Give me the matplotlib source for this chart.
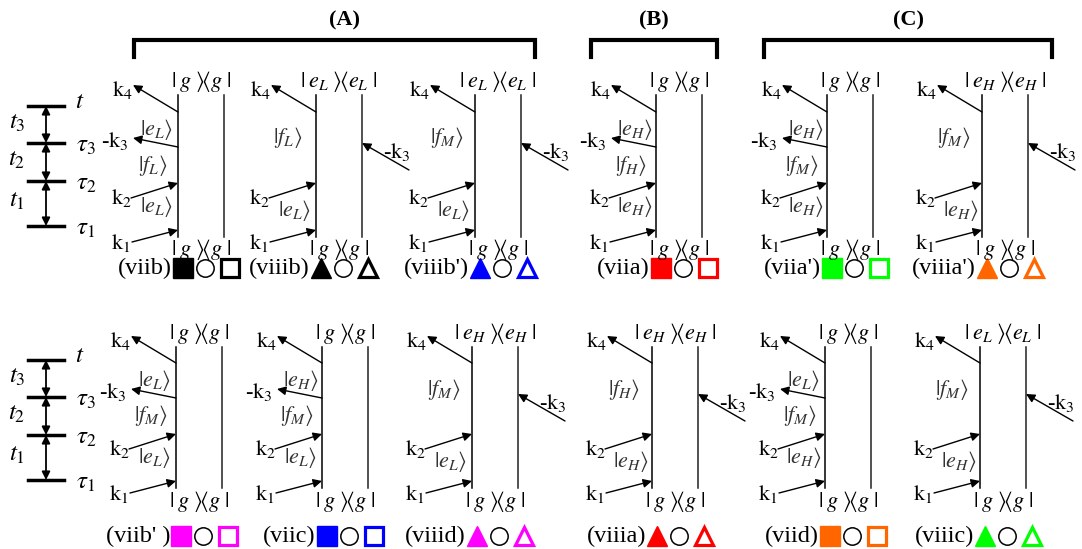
import matplotlib.pyplot as plt

plt.rcParams['font.family'] = ['Liberation Serif', 'DejaVu Serif']
plt.rcParams['mathtext.fontset'] = 'stix'

# diagram contents: top row then bottom row, left to right
names_top = ["(viib)", "(viiib)", "(viiib')", "(viia)", "(viia')", "(viiia')"]
names_bot = ["(viib' )", "(viic)", "(viiid)", "(viiia)", "(viid)", "(viiic)"]
# "ket": all four interactions on the left line, "bra": -k3 acts on the right line
kinds_top = ["ket", "bra", "bra", "ket", "ket", "bra"]
kinds_bot = ["ket", "ket", "bra", "bra", "ket", "bra"]
# population at the end of each diagram
final_top = ["g", "e_L", "e_L", "g", "g", "e_H"]
final_bot = ["g", "g", "e_H", "e_H", "g", "e_L"]
# intermediate states, from the bottom of the diagram upward
states_top = [["e_L", "f_L", "e_L"], ["e_L", "f_L"], ["e_L", "f_M"],
              ["e_H", "f_H", "e_H"], ["e_H", "f_M", "e_H"], ["e_H", "f_M"]]
states_bot = [["e_L", "f_M", "e_L"], ["e_L", "f_M", "e_H"], ["e_L", "f_M"],
              ["e_H", "f_H"], ["e_H", "f_M", "e_L"], ["e_H", "f_M"]]
colors_top = ["black", "black", "#0000ff", "#ff0000", "#00ff00", "#ff6600"]
colors_bot = ["#ff00ff", "#0000ff", "#ff00ff", "#ff0000", "#ff6600", "#00ff00"]
groups = ["(A)", "(B)", "(C)"]

# layout (pixels)
left_top = [178, 316, 475, 656, 827, 982]
left_bot = [176, 322, 472, 652, 825, 980]
rows = [(95, 237, 268), (347, 488, 536)]
group_span = [(134, 535), (591, 717), (764, 1052)]
gap = 46

fig = plt.figure(figsize=(10.82, 5.49), dpi=100)
ax = fig.add_axes([0, 0, 1, 1])
ax.set_xlim(0, 1082)
ax.set_ylim(549, 0)
ax.axis('off')


def arrow(x0, y0, x1, y1):
    ax.annotate("", xy=(x1, y1), xytext=(x0, y0),
                arrowprops=dict(arrowstyle='-|>', lw=1.0, color='black',
                                mutation_scale=13, shrinkA=0, shrinkB=0))


def ket(s):
    return r"$|%s\rangle$" % s


def braket(s):
    return r"$|\;%s\;\rangle\!\langle %s\;|$" % (s, s)


def k(n, minus=False):
    return ("-" if minus else "") + r"$\mathrm{k}_%d$" % n


def diagram(L, y0, y1, ycap, kind, final, states, name, color):
    R = L + gap
    ax.plot([L, L], [y0, y1], color='black', lw=1.1)
    ax.plot([R, R], [y0, y1], color='#222222', lw=1.1)
    ax.text((L + R) / 2, y0 - 13, braket(final), ha='center', va='center', fontsize=16)
    ax.text((L + R) / 2, y1 + 13, braket("g"), ha='center', va='center', fontsize=16)

    yk1, yk2, yk4 = y1 - 7, y1 - 54, y1 - 125
    arrow(L - 46, yk1 + 12, L, yk1)
    ax.text(L - 57, yk1 + 13, k(1), ha='center', va='center', fontsize=16)
    arrow(L - 47, yk2 + 15, L, yk2)
    ax.text(L - 57, yk2 + 15, k(2), ha='center', va='center', fontsize=16)
    arrow(L, yk4, L - 45, yk4 - 27)
    ax.text(L - 56, yk4 - 22, k(4), ha='center', va='center', fontsize=16)

    sc = '#333333'
    if kind == "ket":
        yk3 = y1 - 90
        arrow(L, yk3, L - 45, yk3 - 9)
        ax.text(L - 63, yk3 - 6, k(3, True), ha='center', va='center', fontsize=16)
        ax.text(L - 21, (yk1 + yk2) / 2, ket(states[0]), ha='center', va='center',
                fontsize=16, color=sc)
        ax.text(L - 25, (yk2 + yk3) / 2, ket(states[1]), ha='center', va='center',
                fontsize=16, color=sc)
        ax.text(L - 21, (yk3 + yk4) / 2, ket(states[2]), ha='center', va='center',
                fontsize=16, color=sc)
        mk = 's'
    else:
        yk3 = y1 - 94
        arrow(R + 47, yk3 + 27, R, yk3)
        ax.text(R + 35, yk3 + 9, k(3, True), ha='center', va='center', fontsize=16)
        ax.text(L - 21, (yk1 + yk2) / 2 + 4, ket(states[0]), ha='center', va='center',
                fontsize=16, color=sc)
        ax.text(L - 28, yk3 - 5, ket(states[1]), ha='center', va='center',
                fontsize=16, color=sc)
        mk = '^'

    ax.text(L - 6, ycap, name, ha='right', va='center', fontsize=17.5)
    ax.plot([L + 5], [ycap], marker=mk, ms=14, color=color, mec=color, mew=1)
    ax.plot([L + 27], [ycap], marker='o', ms=12.5, mfc='none', mec='black', mew=1.1)
    ax.plot([L + 52], [ycap], marker=mk, ms=12.5, mfc='none', mec=color, mew=2.3)


for i in range(6):
    y0, y1, yc = rows[0]
    diagram(left_top[i], y0, y1, yc, kinds_top[i], final_top[i], states_top[i],
            names_top[i], colors_top[i])
    y0, y1, yc = rows[1]
    diagram(left_bot[i], y0, y1, yc, kinds_bot[i], final_bot[i], states_bot[i],
            names_bot[i], colors_bot[i])

# group brackets
for lab, (xa, xb) in zip(groups, group_span):
    ax.plot([xa, xa, xb, xb], [57, 40, 40, 57], color='black', lw=3, solid_joinstyle='miter')
    ax.text((xa + xb) / 2 + 10 if lab == "(A)" else (xa + xb) / 2, 20, lab,
            ha='center', va='center', fontsize=16, fontweight='bold')

# time axis on the left
for dy in (0, 254):
    ys = [106 + dy, 143 + dy, 181 + dy, 226 + dy]
    for y in ys:
        ax.plot([28, 64], [y, y], color='black', lw=2.5)
    for ya, yb in zip(ys[:-1], ys[1:]):
        ax.annotate("", xy=(46, ya), xytext=(46, yb),
                    arrowprops=dict(arrowstyle='<|-|>', lw=1.3, color='black',
                                    mutation_scale=12, shrinkA=0, shrinkB=0))
    ax.text(80, ys[0] - 4, r"$t$", ha='center', va='center', fontsize=18)
    for y, s in zip(ys[1:], ["3", "2", "1"]):
        ax.text(86, y + 3, r"$\tau_%s$" % s, ha='center', va='center', fontsize=18)
    for ya, yb, s in zip(ys[:-1], ys[1:], ["3", "2", "1"]):
        ax.text(17, (ya + yb) / 2 - 2, r"$t_%s$" % s, ha='center', va='center', fontsize=18)

fig.savefig("out.png", dpi=100)
